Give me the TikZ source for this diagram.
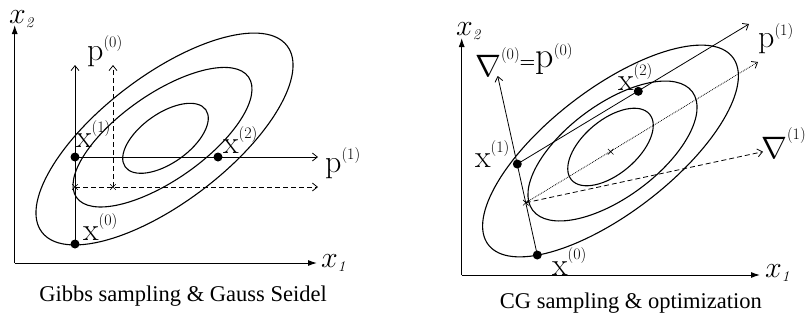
\documentclass[tikz,border=0pt]{standalone}
\usepackage{fix-cm}
\usepackage{fontspec}
\newfontfamily\capfont{Liberation Serif}
\usetikzlibrary{arrows.meta,shapes.misc}
\newcommand{\bigx}{\fontsize{32}{32}\selectfont}
\newcommand{\supf}{\fontsize{16}{16}\selectfont}
\newcommand{\lab}[3]{{\bigx #1}\raisebox{#3pt}{\supf(#2)}}
\newcommand{\nab}{{\fontsize{31}{31}\selectfont$\nabla$}}
\newcommand{\axl}[1]{{\fontsize{30}{30}\selectfont$x$}\raisebox{-4pt}{\fontsize{15}{15}\selectfont\itshape #1}}
\tikzset{
  dot/.style={circle, fill, inner sep=0pt, minimum size=9pt},
  crs/.style={draw, cross out, inner sep=0pt, minimum size=5pt, line width=0.6pt},
  arr/.style={line width=0.8pt, -{Straight Barb[length=5pt,width=8pt]}},
  axis/.style={line width=1pt, -{Latex[length=9pt,width=6pt]}},
  ell/.style={line width=1.1pt},
  lbl/.style={anchor=base west, inner sep=0pt},
  dsh/.style={dash pattern=on 5pt off 3pt},
  captxt/.style={anchor=base, inner sep=0pt, font=\capfont\fontsize{22.5}{24}\selectfont}
}
\begin{document}
\begin{tikzpicture}[x=1pt,y=-1pt]
\useasboundingbox (0,0) rectangle (806,322);
% ---------- left panel ----------
\draw[ell,shift={(164.5,139)},rotate=37.2] (0,0) ellipse [x radius=154pt, y radius=63.4pt];
\draw[ell,shift={(162.5,137.2)},rotate=35] (0,0) ellipse [x radius=105pt, y radius=43pt];
\draw[ell,shift={(165.5,138.3)},rotate=35.3] (0,0) ellipse [x radius=49.4pt, y radius=24.8pt];
\coordinate (Lo) at (14.7,263);
\coordinate (Lxt) at (317,263);
\coordinate (Lyt) at (14.7,25);
\draw[axis] (Lo) -- (Lxt);
\draw[axis] (Lo) -- (Lyt);
\node[dot] (Lx0) at (75,244) {};
\node[dot] (Lx1) at (75,157) {};
\node[dot] (Lx2) at (218,157) {};
\node[crs] (Lc1) at (75,187) {};
\node[crs] (Lc2) at (113,187) {};
\coordinate (Lup1) at (75,65);
\coordinate (Lup2) at (113,65);
\coordinate (Lr1) at (318,157);
\coordinate (Lr2) at (318,187);
\draw[arr] (Lx0.center) -- (Lup1);
\draw[arr,dsh] (Lc2.center) -- (Lup2);
\draw[arr] (Lx1.center) -- (Lr1);
\draw[arr,dsh] (Lc1.center) -- (Lr2);
\node[lbl] (LX0) at (83,240) {\lab{x}{0}{15}};
\node[lbl] (LX1) at (76,147) {\lab{x}{1}{15}};
\node[lbl] (LX2) at (223,153) {\lab{x}{2}{15}};
\node[lbl] (LP1) at (325,172) {\lab{p}{1}{13}};
\node[lbl] (LP0) at (87,60) {\lab{p}{0}{13}};
\node[lbl] (LA2) at (9,23) {\axl{2}};
\node[lbl] (LA1) at (321,267) {\axl{1}};
\node[captxt] (cap1) at (183,301.7) {Gibbs sampling \& Gauss Seidel};
% ---------- right panel ----------
\draw[ell,shift={(610.5,151)},rotate=37.5] (0,0) ellipse [x radius=154pt, y radius=62pt];
\draw[ell,shift={(612.5,151)},rotate=36.5] (0,0) ellipse [x radius=99.4pt, y radius=46.5pt];
\draw[ell,shift={(610.5,147)},rotate=40] (0,0) ellipse [x radius=51pt, y radius=27pt];
\coordinate (Ro) at (461.7,275);
\coordinate (Rxt) at (760,275);
\coordinate (Ryt) at (461.7,38);
\draw[axis] (Ro) -- (Rxt);
\draw[axis] (Ro) -- (Ryt);
\node[dot] (Rx0) at (537.3,255) {};
\node[dot] (Rx1) at (517.3,164) {};
\node[dot] (Rx2) at (638.3,91.3) {};
\node[crs] (Rc0) at (525.8,202.7) {};
\node[crs] (Rc) at (610.7,151.7) {};
\coordinate (Rg0) at (497.7,76);
\coordinate (Rp1) at (749,24);
\coordinate (Rdt) at (758,62);
\coordinate (Rg1) at (763,151.7);
\draw[arr] (Rx0.center) -- (Rg0);
\draw[arr] (Rx1.center) -- (Rp1);
\draw[arr,densely dotted] (Rc0.center) -- (Rdt);
\draw[arr,dsh] (Rc0.center) -- (Rg1);
\node[lbl] (RG0) at (475,76) {\nab\raisebox{17pt}{\supf(0)}\raisebox{9pt}{\fontsize{18}{18}\selectfont\bfseries=}\raisebox{8.5pt}{\fontsize{36}{36}\selectfont p}\raisebox{21pt}{\supf(0)}};
\node[lbl] (RP1) at (758,47) {\lab{p}{1}{12}};
\node[lbl] (RG1) at (761,158) {\nab\raisebox{19pt}{\supf(1)}};
\node[lbl] (RX2) at (618,90) {\lab{x}{2}{15}};
\node[lbl] (RX1) at (475,167) {\lab{x}{1}{15}};
\node[lbl] (RX0) at (552,275) {\lab{x}{0}{16}};
\node[lbl] (RA2) at (456,35) {\axl{2}};
\node[lbl] (RA1) at (765,277) {\axl{1}};
\node[captxt] (cap2) at (630.8,308) {CG sampling \& optimization};
\end{tikzpicture}
\end{document}
